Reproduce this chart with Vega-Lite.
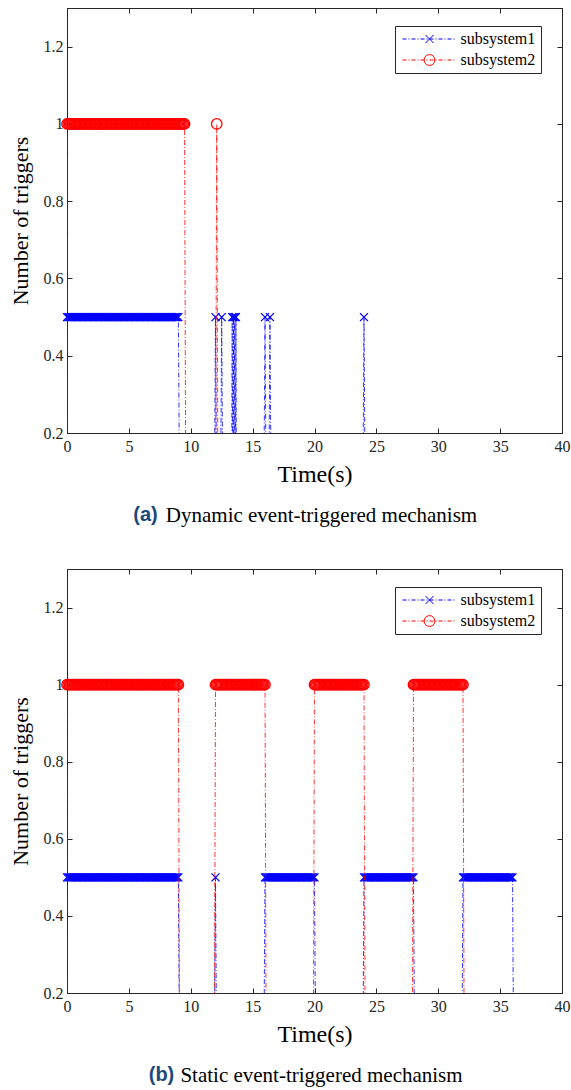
{
"$schema": "https://vega.github.io/schema/vega-lite/v6.json",
"padding": {"left": 8, "top": 7, "right": 9, "bottom": 3},
"config": {
  "font": "Liberation Serif",
  "view": {"stroke": "#262626", "strokeWidth": 1},
  "axis": {"grid": false, "domainColor": "#262626", "domainWidth": 1, "tickColor": "#262626", "tickWidth": 1, "tickSize": -5, "labelFont": "Liberation Serif", "labelFontSize": 16, "labelColor": "#262626", "labelFlush": false, "labelOverlap": false, "titleFont": "Liberation Serif", "titleFontWeight": "normal", "titleColor": "#000000"},
  "axisX": {"labelPadding": 10},
  "axisY": {"labelPadding": 9}
},
"datasets": {
"a1": [{"t":0,"v":0},
{"t":0,"v":0.5},{"t":0.1,"v":0.5},{"t":0.2,"v":0.5},{"t":0.3,"v":0.5},{"t":0.4,"v":0.5},{"t":0.5,"v":0.5},{"t":0.6,"v":0.5},{"t":0.7,"v":0.5},{"t":0.8,"v":0.5},{"t":0.9,"v":0.5},
{"t":1,"v":0.5},{"t":1.1,"v":0.5},{"t":1.2,"v":0.5},{"t":1.3,"v":0.5},{"t":1.4,"v":0.5},{"t":1.5,"v":0.5},{"t":1.6,"v":0.5},{"t":1.7,"v":0.5},{"t":1.8,"v":0.5},{"t":1.9,"v":0.5},
{"t":2,"v":0.5},{"t":2.1,"v":0.5},{"t":2.2,"v":0.5},{"t":2.3,"v":0.5},{"t":2.4,"v":0.5},{"t":2.5,"v":0.5},{"t":2.6,"v":0.5},{"t":2.7,"v":0.5},{"t":2.8,"v":0.5},{"t":2.9,"v":0.5},
{"t":3,"v":0.5},{"t":3.1,"v":0.5},{"t":3.2,"v":0.5},{"t":3.3,"v":0.5},{"t":3.4,"v":0.5},{"t":3.5,"v":0.5},{"t":3.6,"v":0.5},{"t":3.7,"v":0.5},{"t":3.8,"v":0.5},{"t":3.9,"v":0.5},
{"t":4,"v":0.5},{"t":4.1,"v":0.5},{"t":4.2,"v":0.5},{"t":4.3,"v":0.5},{"t":4.4,"v":0.5},{"t":4.5,"v":0.5},{"t":4.6,"v":0.5},{"t":4.7,"v":0.5},{"t":4.8,"v":0.5},{"t":4.9,"v":0.5},
{"t":5,"v":0.5},{"t":5.1,"v":0.5},{"t":5.2,"v":0.5},{"t":5.3,"v":0.5},{"t":5.4,"v":0.5},{"t":5.5,"v":0.5},{"t":5.6,"v":0.5},{"t":5.7,"v":0.5},{"t":5.8,"v":0.5},{"t":5.9,"v":0.5},
{"t":6,"v":0.5},{"t":6.1,"v":0.5},{"t":6.2,"v":0.5},{"t":6.3,"v":0.5},{"t":6.4,"v":0.5},{"t":6.5,"v":0.5},{"t":6.6,"v":0.5},{"t":6.7,"v":0.5},{"t":6.8,"v":0.5},{"t":6.9,"v":0.5},
{"t":7,"v":0.5},{"t":7.1,"v":0.5},{"t":7.2,"v":0.5},{"t":7.3,"v":0.5},{"t":7.4,"v":0.5},{"t":7.5,"v":0.5},{"t":7.6,"v":0.5},{"t":7.7,"v":0.5},{"t":7.8,"v":0.5},{"t":7.9,"v":0.5},
{"t":8,"v":0.5},{"t":8.1,"v":0.5},{"t":8.2,"v":0.5},{"t":8.3,"v":0.5},{"t":8.4,"v":0.5},{"t":8.5,"v":0.5},{"t":8.6,"v":0.5},{"t":8.7,"v":0.5},{"t":8.8,"v":0.5},{"t":8.9,"v":0.5},
{"t":9,"v":0.5},{"t":9.1,"v":0},
{"t":11.9,"v":0},{"t":12,"v":0.5},{"t":12.1,"v":0},
{"t":12.4,"v":0},{"t":12.5,"v":0.5},{"t":12.6,"v":0},
{"t":13.3,"v":0},{"t":13.35,"v":0.5},{"t":13.4,"v":0},{"t":13.45,"v":0.5},{"t":13.5,"v":0},{"t":13.55,"v":0.5},{"t":13.6,"v":0},{"t":13.65,"v":0.5},{"t":13.7,"v":0},
{"t":15.9,"v":0},{"t":16,"v":0.5},{"t":16.1,"v":0},
{"t":16.3,"v":0},{"t":16.4,"v":0.5},{"t":16.5,"v":0},
{"t":23.9,"v":0},{"t":24,"v":0.5},{"t":24.1,"v":0}],
"a2": [{"t":0,"v":0},
{"t":0,"v":1},{"t":0.1,"v":1},{"t":0.2,"v":1},{"t":0.3,"v":1},{"t":0.4,"v":1},{"t":0.5,"v":1},{"t":0.6,"v":1},{"t":0.7,"v":1},{"t":0.8,"v":1},{"t":0.9,"v":1},
{"t":1,"v":1},{"t":1.1,"v":1},{"t":1.2,"v":1},{"t":1.3,"v":1},{"t":1.4,"v":1},{"t":1.5,"v":1},{"t":1.6,"v":1},{"t":1.7,"v":1},{"t":1.8,"v":1},{"t":1.9,"v":1},
{"t":2,"v":1},{"t":2.1,"v":1},{"t":2.2,"v":1},{"t":2.3,"v":1},{"t":2.4,"v":1},{"t":2.5,"v":1},{"t":2.6,"v":1},{"t":2.7,"v":1},{"t":2.8,"v":1},{"t":2.9,"v":1},
{"t":3,"v":1},{"t":3.1,"v":1},{"t":3.2,"v":1},{"t":3.3,"v":1},{"t":3.4,"v":1},{"t":3.5,"v":1},{"t":3.6,"v":1},{"t":3.7,"v":1},{"t":3.8,"v":1},{"t":3.9,"v":1},
{"t":4,"v":1},{"t":4.1,"v":1},{"t":4.2,"v":1},{"t":4.3,"v":1},{"t":4.4,"v":1},{"t":4.5,"v":1},{"t":4.6,"v":1},{"t":4.7,"v":1},{"t":4.8,"v":1},{"t":4.9,"v":1},
{"t":5,"v":1},{"t":5.1,"v":1},{"t":5.2,"v":1},{"t":5.3,"v":1},{"t":5.4,"v":1},{"t":5.5,"v":1},{"t":5.6,"v":1},{"t":5.7,"v":1},{"t":5.8,"v":1},{"t":5.9,"v":1},
{"t":6,"v":1},{"t":6.1,"v":1},{"t":6.2,"v":1},{"t":6.3,"v":1},{"t":6.4,"v":1},{"t":6.5,"v":1},{"t":6.6,"v":1},{"t":6.7,"v":1},{"t":6.8,"v":1},{"t":6.9,"v":1},
{"t":7,"v":1},{"t":7.1,"v":1},{"t":7.2,"v":1},{"t":7.3,"v":1},{"t":7.4,"v":1},{"t":7.5,"v":1},{"t":7.6,"v":1},{"t":7.7,"v":1},{"t":7.8,"v":1},{"t":7.9,"v":1},
{"t":8,"v":1},{"t":8.1,"v":1},{"t":8.2,"v":1},{"t":8.3,"v":1},{"t":8.4,"v":1},{"t":8.5,"v":1},{"t":8.6,"v":1},{"t":8.7,"v":1},{"t":8.8,"v":1},{"t":8.9,"v":1},
{"t":9,"v":1},{"t":9.1,"v":1},{"t":9.2,"v":1},{"t":9.3,"v":1},{"t":9.4,"v":1},{"t":9.5,"v":1},{"t":9.6,"v":0},
{"t":12,"v":0},{"t":12.1,"v":1},{"t":12.2,"v":0}],
"b1": [{"t":0,"v":0},
{"t":0,"v":0.5},{"t":0.1,"v":0.5},{"t":0.2,"v":0.5},{"t":0.3,"v":0.5},{"t":0.4,"v":0.5},{"t":0.5,"v":0.5},{"t":0.6,"v":0.5},{"t":0.7,"v":0.5},{"t":0.8,"v":0.5},{"t":0.9,"v":0.5},
{"t":1,"v":0.5},{"t":1.1,"v":0.5},{"t":1.2,"v":0.5},{"t":1.3,"v":0.5},{"t":1.4,"v":0.5},{"t":1.5,"v":0.5},{"t":1.6,"v":0.5},{"t":1.7,"v":0.5},{"t":1.8,"v":0.5},{"t":1.9,"v":0.5},
{"t":2,"v":0.5},{"t":2.1,"v":0.5},{"t":2.2,"v":0.5},{"t":2.3,"v":0.5},{"t":2.4,"v":0.5},{"t":2.5,"v":0.5},{"t":2.6,"v":0.5},{"t":2.7,"v":0.5},{"t":2.8,"v":0.5},{"t":2.9,"v":0.5},
{"t":3,"v":0.5},{"t":3.1,"v":0.5},{"t":3.2,"v":0.5},{"t":3.3,"v":0.5},{"t":3.4,"v":0.5},{"t":3.5,"v":0.5},{"t":3.6,"v":0.5},{"t":3.7,"v":0.5},{"t":3.8,"v":0.5},{"t":3.9,"v":0.5},
{"t":4,"v":0.5},{"t":4.1,"v":0.5},{"t":4.2,"v":0.5},{"t":4.3,"v":0.5},{"t":4.4,"v":0.5},{"t":4.5,"v":0.5},{"t":4.6,"v":0.5},{"t":4.7,"v":0.5},{"t":4.8,"v":0.5},{"t":4.9,"v":0.5},
{"t":5,"v":0.5},{"t":5.1,"v":0.5},{"t":5.2,"v":0.5},{"t":5.3,"v":0.5},{"t":5.4,"v":0.5},{"t":5.5,"v":0.5},{"t":5.6,"v":0.5},{"t":5.7,"v":0.5},{"t":5.8,"v":0.5},{"t":5.9,"v":0.5},
{"t":6,"v":0.5},{"t":6.1,"v":0.5},{"t":6.2,"v":0.5},{"t":6.3,"v":0.5},{"t":6.4,"v":0.5},{"t":6.5,"v":0.5},{"t":6.6,"v":0.5},{"t":6.7,"v":0.5},{"t":6.8,"v":0.5},{"t":6.9,"v":0.5},
{"t":7,"v":0.5},{"t":7.1,"v":0.5},{"t":7.2,"v":0.5},{"t":7.3,"v":0.5},{"t":7.4,"v":0.5},{"t":7.5,"v":0.5},{"t":7.6,"v":0.5},{"t":7.7,"v":0.5},{"t":7.8,"v":0.5},{"t":7.9,"v":0.5},
{"t":8,"v":0.5},{"t":8.1,"v":0.5},{"t":8.2,"v":0.5},{"t":8.3,"v":0.5},{"t":8.4,"v":0.5},{"t":8.5,"v":0.5},{"t":8.6,"v":0.5},{"t":8.7,"v":0.5},{"t":8.8,"v":0.5},{"t":8.9,"v":0.5},
{"t":9,"v":0.5},{"t":9.1,"v":0},
{"t":11.9,"v":0},{"t":12,"v":0.5},{"t":12.1,"v":0},
{"t":15.9,"v":0},
{"t":16,"v":0.5},{"t":16.1,"v":0.5},{"t":16.2,"v":0.5},{"t":16.3,"v":0.5},{"t":16.4,"v":0.5},{"t":16.5,"v":0.5},{"t":16.6,"v":0.5},{"t":16.7,"v":0.5},{"t":16.8,"v":0.5},{"t":16.9,"v":0.5},
{"t":17,"v":0.5},{"t":17.1,"v":0.5},{"t":17.2,"v":0.5},{"t":17.3,"v":0.5},{"t":17.4,"v":0.5},{"t":17.5,"v":0.5},{"t":17.6,"v":0.5},{"t":17.7,"v":0.5},{"t":17.8,"v":0.5},{"t":17.9,"v":0.5},
{"t":18,"v":0.5},{"t":18.1,"v":0.5},{"t":18.2,"v":0.5},{"t":18.3,"v":0.5},{"t":18.4,"v":0.5},{"t":18.5,"v":0.5},{"t":18.6,"v":0.5},{"t":18.7,"v":0.5},{"t":18.8,"v":0.5},{"t":18.9,"v":0.5},
{"t":19,"v":0.5},{"t":19.1,"v":0.5},{"t":19.2,"v":0.5},{"t":19.3,"v":0.5},{"t":19.4,"v":0.5},{"t":19.5,"v":0.5},{"t":19.6,"v":0.5},{"t":19.7,"v":0.5},{"t":19.8,"v":0.5},{"t":19.9,"v":0.5},
{"t":20,"v":0.5},{"t":20.1,"v":0},
{"t":23.9,"v":0},
{"t":24,"v":0.5},{"t":24.1,"v":0.5},{"t":24.2,"v":0.5},{"t":24.3,"v":0.5},{"t":24.4,"v":0.5},{"t":24.5,"v":0.5},{"t":24.6,"v":0.5},{"t":24.7,"v":0.5},{"t":24.8,"v":0.5},{"t":24.9,"v":0.5},
{"t":25,"v":0.5},{"t":25.1,"v":0.5},{"t":25.2,"v":0.5},{"t":25.3,"v":0.5},{"t":25.4,"v":0.5},{"t":25.5,"v":0.5},{"t":25.6,"v":0.5},{"t":25.7,"v":0.5},{"t":25.8,"v":0.5},{"t":25.9,"v":0.5},
{"t":26,"v":0.5},{"t":26.1,"v":0.5},{"t":26.2,"v":0.5},{"t":26.3,"v":0.5},{"t":26.4,"v":0.5},{"t":26.5,"v":0.5},{"t":26.6,"v":0.5},{"t":26.7,"v":0.5},{"t":26.8,"v":0.5},{"t":26.9,"v":0.5},
{"t":27,"v":0.5},{"t":27.1,"v":0.5},{"t":27.2,"v":0.5},{"t":27.3,"v":0.5},{"t":27.4,"v":0.5},{"t":27.5,"v":0.5},{"t":27.6,"v":0.5},{"t":27.7,"v":0.5},{"t":27.8,"v":0.5},{"t":27.9,"v":0.5},
{"t":28,"v":0.5},{"t":28.1,"v":0},
{"t":31.9,"v":0},
{"t":32,"v":0.5},{"t":32.1,"v":0.5},{"t":32.2,"v":0.5},{"t":32.3,"v":0.5},{"t":32.4,"v":0.5},{"t":32.5,"v":0.5},{"t":32.6,"v":0.5},{"t":32.7,"v":0.5},{"t":32.8,"v":0.5},{"t":32.9,"v":0.5},
{"t":33,"v":0.5},{"t":33.1,"v":0.5},{"t":33.2,"v":0.5},{"t":33.3,"v":0.5},{"t":33.4,"v":0.5},{"t":33.5,"v":0.5},{"t":33.6,"v":0.5},{"t":33.7,"v":0.5},{"t":33.8,"v":0.5},{"t":33.9,"v":0.5},
{"t":34,"v":0.5},{"t":34.1,"v":0.5},{"t":34.2,"v":0.5},{"t":34.3,"v":0.5},{"t":34.4,"v":0.5},{"t":34.5,"v":0.5},{"t":34.6,"v":0.5},{"t":34.7,"v":0.5},{"t":34.8,"v":0.5},{"t":34.9,"v":0.5},
{"t":35,"v":0.5},{"t":35.1,"v":0.5},{"t":35.2,"v":0.5},{"t":35.3,"v":0.5},{"t":35.4,"v":0.5},{"t":35.5,"v":0.5},{"t":35.6,"v":0.5},{"t":35.7,"v":0.5},{"t":35.8,"v":0.5},{"t":35.9,"v":0.5},
{"t":36,"v":0.5},{"t":36.1,"v":0}],
"b2": [{"t":0,"v":0},
{"t":0,"v":1},{"t":0.1,"v":1},{"t":0.2,"v":1},{"t":0.3,"v":1},{"t":0.4,"v":1},{"t":0.5,"v":1},{"t":0.6,"v":1},{"t":0.7,"v":1},{"t":0.8,"v":1},{"t":0.9,"v":1},
{"t":1,"v":1},{"t":1.1,"v":1},{"t":1.2,"v":1},{"t":1.3,"v":1},{"t":1.4,"v":1},{"t":1.5,"v":1},{"t":1.6,"v":1},{"t":1.7,"v":1},{"t":1.8,"v":1},{"t":1.9,"v":1},
{"t":2,"v":1},{"t":2.1,"v":1},{"t":2.2,"v":1},{"t":2.3,"v":1},{"t":2.4,"v":1},{"t":2.5,"v":1},{"t":2.6,"v":1},{"t":2.7,"v":1},{"t":2.8,"v":1},{"t":2.9,"v":1},
{"t":3,"v":1},{"t":3.1,"v":1},{"t":3.2,"v":1},{"t":3.3,"v":1},{"t":3.4,"v":1},{"t":3.5,"v":1},{"t":3.6,"v":1},{"t":3.7,"v":1},{"t":3.8,"v":1},{"t":3.9,"v":1},
{"t":4,"v":1},{"t":4.1,"v":1},{"t":4.2,"v":1},{"t":4.3,"v":1},{"t":4.4,"v":1},{"t":4.5,"v":1},{"t":4.6,"v":1},{"t":4.7,"v":1},{"t":4.8,"v":1},{"t":4.9,"v":1},
{"t":5,"v":1},{"t":5.1,"v":1},{"t":5.2,"v":1},{"t":5.3,"v":1},{"t":5.4,"v":1},{"t":5.5,"v":1},{"t":5.6,"v":1},{"t":5.7,"v":1},{"t":5.8,"v":1},{"t":5.9,"v":1},
{"t":6,"v":1},{"t":6.1,"v":1},{"t":6.2,"v":1},{"t":6.3,"v":1},{"t":6.4,"v":1},{"t":6.5,"v":1},{"t":6.6,"v":1},{"t":6.7,"v":1},{"t":6.8,"v":1},{"t":6.9,"v":1},
{"t":7,"v":1},{"t":7.1,"v":1},{"t":7.2,"v":1},{"t":7.3,"v":1},{"t":7.4,"v":1},{"t":7.5,"v":1},{"t":7.6,"v":1},{"t":7.7,"v":1},{"t":7.8,"v":1},{"t":7.9,"v":1},
{"t":8,"v":1},{"t":8.1,"v":1},{"t":8.2,"v":1},{"t":8.3,"v":1},{"t":8.4,"v":1},{"t":8.5,"v":1},{"t":8.6,"v":1},{"t":8.7,"v":1},{"t":8.8,"v":1},{"t":8.9,"v":1},
{"t":9,"v":1},{"t":9.1,"v":0},
{"t":11.9,"v":0},
{"t":12,"v":1},{"t":12.1,"v":1},{"t":12.2,"v":1},{"t":12.3,"v":1},{"t":12.4,"v":1},{"t":12.5,"v":1},{"t":12.6,"v":1},{"t":12.7,"v":1},{"t":12.8,"v":1},{"t":12.9,"v":1},
{"t":13,"v":1},{"t":13.1,"v":1},{"t":13.2,"v":1},{"t":13.3,"v":1},{"t":13.4,"v":1},{"t":13.5,"v":1},{"t":13.6,"v":1},{"t":13.7,"v":1},{"t":13.8,"v":1},{"t":13.9,"v":1},
{"t":14,"v":1},{"t":14.1,"v":1},{"t":14.2,"v":1},{"t":14.3,"v":1},{"t":14.4,"v":1},{"t":14.5,"v":1},{"t":14.6,"v":1},{"t":14.7,"v":1},{"t":14.8,"v":1},{"t":14.9,"v":1},
{"t":15,"v":1},{"t":15.1,"v":1},{"t":15.2,"v":1},{"t":15.3,"v":1},{"t":15.4,"v":1},{"t":15.5,"v":1},{"t":15.6,"v":1},{"t":15.7,"v":1},{"t":15.8,"v":1},{"t":15.9,"v":1},
{"t":16,"v":1},{"t":16.1,"v":0},
{"t":19.9,"v":0},
{"t":20,"v":1},{"t":20.1,"v":1},{"t":20.2,"v":1},{"t":20.3,"v":1},{"t":20.4,"v":1},{"t":20.5,"v":1},{"t":20.6,"v":1},{"t":20.7,"v":1},{"t":20.8,"v":1},{"t":20.9,"v":1},
{"t":21,"v":1},{"t":21.1,"v":1},{"t":21.2,"v":1},{"t":21.3,"v":1},{"t":21.4,"v":1},{"t":21.5,"v":1},{"t":21.6,"v":1},{"t":21.7,"v":1},{"t":21.8,"v":1},{"t":21.9,"v":1},
{"t":22,"v":1},{"t":22.1,"v":1},{"t":22.2,"v":1},{"t":22.3,"v":1},{"t":22.4,"v":1},{"t":22.5,"v":1},{"t":22.6,"v":1},{"t":22.7,"v":1},{"t":22.8,"v":1},{"t":22.9,"v":1},
{"t":23,"v":1},{"t":23.1,"v":1},{"t":23.2,"v":1},{"t":23.3,"v":1},{"t":23.4,"v":1},{"t":23.5,"v":1},{"t":23.6,"v":1},{"t":23.7,"v":1},{"t":23.8,"v":1},{"t":23.9,"v":1},
{"t":24,"v":1},{"t":24.1,"v":0},
{"t":27.9,"v":0},
{"t":28,"v":1},{"t":28.1,"v":1},{"t":28.2,"v":1},{"t":28.3,"v":1},{"t":28.4,"v":1},{"t":28.5,"v":1},{"t":28.6,"v":1},{"t":28.7,"v":1},{"t":28.8,"v":1},{"t":28.9,"v":1},
{"t":29,"v":1},{"t":29.1,"v":1},{"t":29.2,"v":1},{"t":29.3,"v":1},{"t":29.4,"v":1},{"t":29.5,"v":1},{"t":29.6,"v":1},{"t":29.7,"v":1},{"t":29.8,"v":1},{"t":29.9,"v":1},
{"t":30,"v":1},{"t":30.1,"v":1},{"t":30.2,"v":1},{"t":30.3,"v":1},{"t":30.4,"v":1},{"t":30.5,"v":1},{"t":30.6,"v":1},{"t":30.7,"v":1},{"t":30.8,"v":1},{"t":30.9,"v":1},
{"t":31,"v":1},{"t":31.1,"v":1},{"t":31.2,"v":1},{"t":31.3,"v":1},{"t":31.4,"v":1},{"t":31.5,"v":1},{"t":31.6,"v":1},{"t":31.7,"v":1},{"t":31.8,"v":1},{"t":31.9,"v":1},
{"t":32,"v":1},{"t":32.1,"v":0}]
},
"resolve": {"scale": {"color": "independent", "shape": "independent"}, "legend": {"color": "independent", "shape": "independent"}},
"spacing": 42,
"vconcat": [
{
  "title": {"text": "Dynamic event-triggered mechanism", "orient": "bottom", "anchor": "middle", "font": "Liberation Serif", "fontSize": 21, "fontWeight": "normal", "color": "#000000", "dx": 32, "dy": -21, "offset": 0},
  "resolve": {"scale": {"color": "independent", "shape": "independent"}, "legend": {"color": "independent", "shape": "independent"}},
  "vconcat": [{
    "width": 495, "height": 425,
    "title": {"text": "(a)", "orient": "bottom", "anchor": "middle", "frame": "group", "font": "Liberation Sans", "fontWeight": "bold", "fontSize": 20, "color": "#1b4a7a", "dx": -169, "offset": 19},
    "layer": [
      {"data": {"name": "a1"},
       "mark": {"type": "line", "color": "#0000ff", "strokeWidth": 0.8, "strokeDash": [5, 2, 1, 2], "clip": true},
       "encoding": {
         "x": {"field": "t", "type": "quantitative", "scale": {"domain": [0, 40], "nice": false, "zero": false}, "axis": {"orient": "bottom", "title": "Time(s)", "values": [0, 5, 10, 15, 20, 25, 30, 35, 40], "format": "d", "labelFont": "Liberation Serif", "titleFont": "Liberation Serif", "titleFontSize": 24, "titlePadding": 8}},
         "y": {"field": "v", "type": "quantitative", "scale": {"domain": [0.2, 1.3], "nice": false, "zero": false}, "axis": {"orient": "left", "title": "Number of triggers", "values": [0.2, 0.4, 0.6, 0.8, 1, 1.2], "format": "~g", "labelFont": "Liberation Serif", "titleFont": "Liberation Serif", "titleFontSize": 22, "titlePadding": 11}}
       }},
      {"data": {"name": "a1"}, "transform": [{"filter": "datum.v > 0"}],
       "mark": {"type": "point", "shape": "M-1,-1L1,1M-1,1L1,-1", "filled": false, "color": "#0000ff", "opacity": 1, "size": 64, "strokeWidth": 1.3},
       "encoding": {
         "x": {"field": "t", "type": "quantitative", "scale": {"domain": [0, 40], "nice": false, "zero": false}, "axis": null},
         "y": {"field": "v", "type": "quantitative", "scale": {"domain": [0.2, 1.3], "nice": false, "zero": false}, "axis": null}
       }},
      {"data": {"name": "a2"},
       "mark": {"type": "line", "color": "#ff0000", "strokeWidth": 0.8, "strokeDash": [5, 2, 1, 2], "clip": true},
       "encoding": {
         "x": {"field": "t", "type": "quantitative", "scale": {"domain": [0, 40], "nice": false, "zero": false}, "axis": {"orient": "top", "labels": false, "title": null, "values": [0, 5, 10, 15, 20, 25, 30, 35, 40]}},
         "y": {"field": "v", "type": "quantitative", "scale": {"domain": [0.2, 1.3], "nice": false, "zero": false}, "axis": {"orient": "right", "labels": false, "title": null, "values": [0.2, 0.4, 0.6, 0.8, 1, 1.2]}}
       }},
      {"data": {"name": "a2"}, "transform": [{"filter": "datum.v > 0"}],
       "mark": {"type": "point", "shape": "circle", "filled": false, "color": "#ff0000", "opacity": 1, "size": 110, "strokeWidth": 1.3},
       "encoding": {
         "x": {"field": "t", "type": "quantitative", "scale": {"domain": [0, 40], "nice": false, "zero": false}, "axis": null},
         "y": {"field": "v", "type": "quantitative", "scale": {"domain": [0.2, 1.3], "nice": false, "zero": false}, "axis": null}
       }},
      {"data": {"name": "a1"}, "transform": [{"filter": "false"}],
       "mark": {"type": "point", "filled": false, "opacity": 1, "size": 64, "strokeWidth": 1},
       "encoding": {
         "color": {"field": "s", "type": "nominal", "scale": {"domain": ["subsystem1", "subsystem2"], "range": ["#0000ff", "#ff0000"]},
           "legend": {"title": null, "orient": "none", "legendX": 328, "legendY": 18, "padding": 5, "strokeColor": "#262626", "fillColor": "#ffffff", "labelFont": "Liberation Serif", "labelFontSize": 16, "labelColor": "#000000", "symbolSize": 64, "symbolStrokeWidth": 1, "symbolOffset": 21.5, "labelOffset": 23, "rowPadding": 5}},
         "shape": {"field": "s", "type": "nominal", "scale": {"domain": ["subsystem1", "subsystem2"], "range": ["M-1,-1L1,1M-1,1L1,-1M-6.75,0L-5.75,0M-5.25,0L-5,0M-4.5,0L-3.5,0M-3,0L-2.75,0M-2.25,0L-1.25,0M-0.75,0L-0.5,0M0,0L1,0M1.5,0L1.75,0M2.25,0L3.25,0M3.75,0L4,0M4.5,0L5.5,0M6,0L6.25,0", "M1.35,0A1.35,1.35,0,1,1,-1.35,0A1.35,1.35,0,1,1,1.35,0M-6.75,0L-5.75,0M-5.25,0L-5,0M-4.5,0L-3.5,0M-3,0L-2.75,0M-2.25,0L-1.25,0M-0.75,0L-0.5,0M0,0L1,0M1.5,0L1.75,0M2.25,0L3.25,0M3.75,0L4,0M4.5,0L5.5,0M6,0L6.25,0"]},
           "legend": {"title": null, "orient": "none", "legendX": 328, "legendY": 18, "padding": 5, "strokeColor": "#262626", "fillColor": "#ffffff", "labelFont": "Liberation Serif", "labelFontSize": 16, "labelColor": "#000000", "symbolSize": 64, "symbolStrokeWidth": 1, "symbolOffset": 21.5, "labelOffset": 23, "rowPadding": 5}}
       }}
    ]
  }]
},
{
  "title": {"text": "Static event-triggered mechanism", "orient": "bottom", "anchor": "middle", "font": "Liberation Serif", "fontSize": 21, "fontWeight": "normal", "color": "#000000", "dx": 32, "dy": -21, "offset": 0},
  "resolve": {"scale": {"color": "independent", "shape": "independent"}, "legend": {"color": "independent", "shape": "independent"}},
  "vconcat": [{
    "width": 495, "height": 424,
    "title": {"text": "(b)", "orient": "bottom", "anchor": "middle", "frame": "group", "font": "Liberation Sans", "fontWeight": "bold", "fontSize": 20, "color": "#1b4a7a", "dx": -153, "offset": 19},
    "layer": [
      {"data": {"name": "b1"},
       "mark": {"type": "line", "color": "#0000ff", "strokeWidth": 0.8, "strokeDash": [5, 2, 1, 2], "clip": true},
       "encoding": {
         "x": {"field": "t", "type": "quantitative", "scale": {"domain": [0, 40], "nice": false, "zero": false}, "axis": {"orient": "bottom", "title": "Time(s)", "values": [0, 5, 10, 15, 20, 25, 30, 35, 40], "format": "d", "labelFont": "Liberation Serif", "titleFont": "Liberation Serif", "titleFontSize": 24, "titlePadding": 8}},
         "y": {"field": "v", "type": "quantitative", "scale": {"domain": [0.2, 1.3], "nice": false, "zero": false}, "axis": {"orient": "left", "title": "Number of triggers", "values": [0.2, 0.4, 0.6, 0.8, 1, 1.2], "format": "~g", "labelFont": "Liberation Serif", "titleFont": "Liberation Serif", "titleFontSize": 22, "titlePadding": 11}}
       }},
      {"data": {"name": "b1"}, "transform": [{"filter": "datum.v > 0"}],
       "mark": {"type": "point", "shape": "M-1,-1L1,1M-1,1L1,-1", "filled": false, "color": "#0000ff", "opacity": 1, "size": 64, "strokeWidth": 1.3},
       "encoding": {
         "x": {"field": "t", "type": "quantitative", "scale": {"domain": [0, 40], "nice": false, "zero": false}, "axis": null},
         "y": {"field": "v", "type": "quantitative", "scale": {"domain": [0.2, 1.3], "nice": false, "zero": false}, "axis": null}
       }},
      {"data": {"name": "b2"},
       "mark": {"type": "line", "color": "#ff0000", "strokeWidth": 0.8, "strokeDash": [5, 2, 1, 2], "clip": true},
       "encoding": {
         "x": {"field": "t", "type": "quantitative", "scale": {"domain": [0, 40], "nice": false, "zero": false}, "axis": {"orient": "top", "labels": false, "title": null, "values": [0, 5, 10, 15, 20, 25, 30, 35, 40]}},
         "y": {"field": "v", "type": "quantitative", "scale": {"domain": [0.2, 1.3], "nice": false, "zero": false}, "axis": {"orient": "right", "labels": false, "title": null, "values": [0.2, 0.4, 0.6, 0.8, 1, 1.2]}}
       }},
      {"data": {"name": "b2"}, "transform": [{"filter": "datum.v > 0"}],
       "mark": {"type": "point", "shape": "circle", "filled": false, "color": "#ff0000", "opacity": 1, "size": 110, "strokeWidth": 1.3},
       "encoding": {
         "x": {"field": "t", "type": "quantitative", "scale": {"domain": [0, 40], "nice": false, "zero": false}, "axis": null},
         "y": {"field": "v", "type": "quantitative", "scale": {"domain": [0.2, 1.3], "nice": false, "zero": false}, "axis": null}
       }},
      {"data": {"name": "b1"}, "transform": [{"filter": "false"}],
       "mark": {"type": "point", "filled": false, "opacity": 1, "size": 64, "strokeWidth": 1},
       "encoding": {
         "color": {"field": "s", "type": "nominal", "scale": {"domain": ["subsystem1", "subsystem2"], "range": ["#0000ff", "#ff0000"]},
           "legend": {"title": null, "orient": "none", "legendX": 328, "legendY": 18, "padding": 5, "strokeColor": "#262626", "fillColor": "#ffffff", "labelFont": "Liberation Serif", "labelFontSize": 16, "labelColor": "#000000", "symbolSize": 64, "symbolStrokeWidth": 1, "symbolOffset": 21.5, "labelOffset": 23, "rowPadding": 5}},
         "shape": {"field": "s", "type": "nominal", "scale": {"domain": ["subsystem1", "subsystem2"], "range": ["M-1,-1L1,1M-1,1L1,-1M-6.75,0L-5.75,0M-5.25,0L-5,0M-4.5,0L-3.5,0M-3,0L-2.75,0M-2.25,0L-1.25,0M-0.75,0L-0.5,0M0,0L1,0M1.5,0L1.75,0M2.25,0L3.25,0M3.75,0L4,0M4.5,0L5.5,0M6,0L6.25,0", "M1.35,0A1.35,1.35,0,1,1,-1.35,0A1.35,1.35,0,1,1,1.35,0M-6.75,0L-5.75,0M-5.25,0L-5,0M-4.5,0L-3.5,0M-3,0L-2.75,0M-2.25,0L-1.25,0M-0.75,0L-0.5,0M0,0L1,0M1.5,0L1.75,0M2.25,0L3.25,0M3.75,0L4,0M4.5,0L5.5,0M6,0L6.25,0"]},
           "legend": {"title": null, "orient": "none", "legendX": 328, "legendY": 18, "padding": 5, "strokeColor": "#262626", "fillColor": "#ffffff", "labelFont": "Liberation Serif", "labelFontSize": 16, "labelColor": "#000000", "symbolSize": 64, "symbolStrokeWidth": 1, "symbolOffset": 21.5, "labelOffset": 23, "rowPadding": 5}}
       }}
    ]
  }]
}
]
}
